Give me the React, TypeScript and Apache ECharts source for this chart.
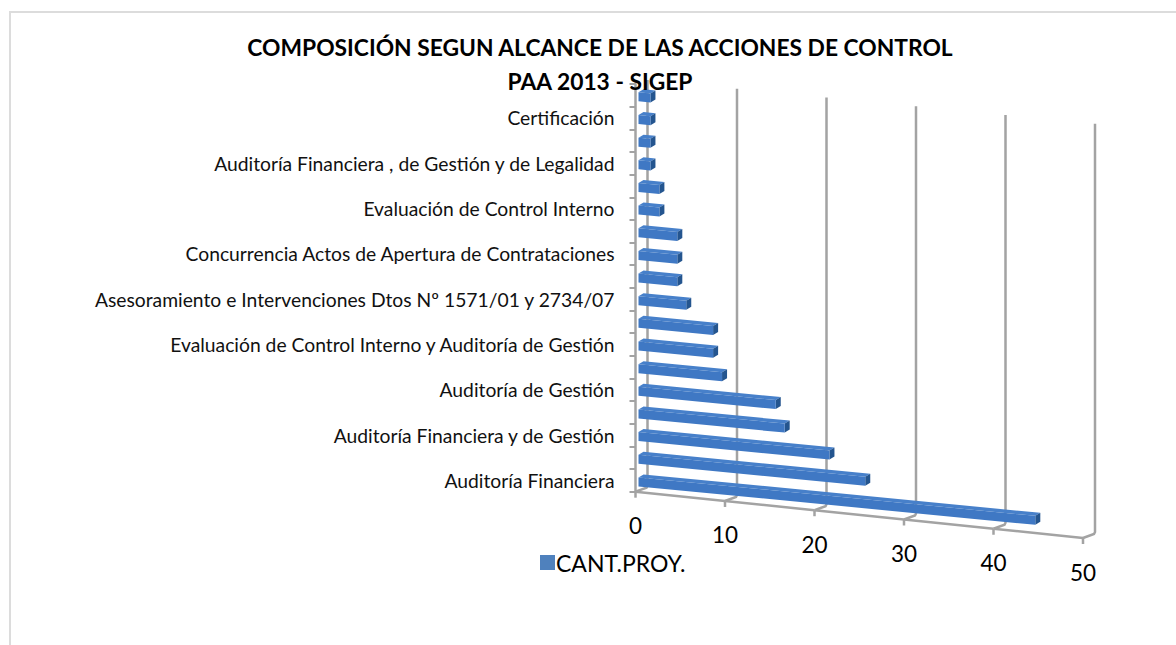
import React, { useEffect, useRef } from "react";
import * as echarts from "echarts";

const titleText = "COMPOSICIÓN SEGUN ALCANCE DE LAS ACCIONES DE CONTROL\nPAA 2013 - SIGEP";
const seriesName = "CANT.PROY.";
const categories = [
  "Auditoría Financiera", "",
  "Auditoría Financiera y de Gestión", "",
  "Auditoría de Gestión", "",
  "Evaluación de Control Interno y Auditoría de Gestión", "",
  "Asesoramiento e Intervenciones Dtos Nº 1571/01 y 2734/07", "",
  "Concurrencia Actos de Apertura de Contrataciones", "",
  "Evaluación de Control Interno", "",
  "Auditoría Financiera , de Gestión y de Legalidad", "",
  "Certificación", "",
];
const values = [44, 25, 21, 16, 15, 9, 8, 8, 5, 4, 4, 4, 2, 2, 1, 1, 1, 1];
const valueTicks = [0, 10, 20, 30, 40, 50];

const FONT = "Lato, 'Open Sans', sans-serif";
const GREY = "#A3A3A3";
const BAR_SLOPE = 0.097;
const FLOOR_SLOPE = 0.1035;
const WALL_SLOPE = 0.098;

export default function App() {
  const ref = useRef<HTMLDivElement>(null);
  useEffect(() => {
    const chart = echarts.init(ref.current!, undefined, { renderer: "svg" });
    chart.setOption({
      animation: false,
      backgroundColor: "#fff",
      title: {
        text: titleText,
        left: 595,
        top: 24.5,
        textAlign: "center",
        textStyle: { fontFamily: FONT, fontWeight: "bold", fontSize: 22.8, lineHeight: 34.5, color: "#000" },
      },
      legend: {
        data: [seriesName],
        left: 535,
        top: 546,
        icon: "rect",
        itemWidth: 15,
        itemHeight: 15,
        itemGap: 6,
        textStyle: { fontFamily: FONT, fontSize: 23, color: "#000", padding: [0, 0, 0, -4] },
      },
      grid: { left: 635.5, top: 84, width: 447.5, height: 407.7 },
      xAxis: { type: "value", min: 0, max: 50, interval: 10, show: false },
      yAxis: {
        type: "category",
        data: categories,
        axisLine: { show: true, lineStyle: { color: GREY, width: 2.5 } },
        axisTick: { show: true, interval: 0, length: 6, lineStyle: { color: GREY, width: 2 } },
        axisLabel: { interval: 1, margin: 21, fontFamily: FONT, fontSize: 19.3, color: "#111" },
        splitLine: { show: false },
      },
      graphic: [
        {
          type: "polyline",
          shape: { points: [[10, 645], [10, 12], [1176, 12]] },
          style: { stroke: "#DCDCDC", lineWidth: 2, fill: "none" },
          silent: true,
        },
      ],
      series: [
        {
          type: "custom",
          name: "frame",
          data: valueTicks.map((t) => [t]),
          encode: { x: 0 },
          silent: true,
          z: 1,
          renderItem: (params: any, api: any) => {
            const v = api.value(0);
            const [x] = api.coord([v, 0]);
            const cs = params.coordSys;
            const left = cs.x;
            const bottom = cs.y + cs.height;
            const fy = bottom + FLOOR_SLOPE * (x - left);
            const bx = x + 12;
            const by = fy - 5;
            const topY = cs.y - 4 + WALL_SLOPE * (bx - left - 12);
            const lineStyle = { stroke: GREY, lineWidth: 2.5, fill: "none" };
            const children: any[] = [
              { type: "polyline", shape: { points: [[x, fy], [bx - 1, by + 1], [bx, by - 1], [bx, topY]] }, style: lineStyle },
              { type: "line", shape: { x1: x, y1: fy, x2: x, y2: fy + 6 }, style: lineStyle },
              {
                type: "text",
                style: {
                  text: String(v),
                  x,
                  y: fy + 34,
                  fontFamily: FONT,
                  fontSize: 22.5,
                  fill: "#000",
                  align: "center",
                  verticalAlign: "middle",
                },
              },
            ];
            if (v < valueTicks[valueTicks.length - 1]) {
              const [nx] = api.coord([v + 10, 0]);
              children.push({
                type: "line",
                shape: { x1: x, y1: fy, x2: nx, y2: bottom + FLOOR_SLOPE * (nx - left) },
                style: lineStyle,
              });
            }
            return { type: "group", children };
          },
        },
        {
          type: "custom",
          name: seriesName,
          data: values.map((v, i) => [v, i]),
          encode: { x: 0, y: 1 },
          itemStyle: { color: "#4F81BD" },
          silent: true,
          z: 3,
          renderItem: (_params: any, api: any) => {
            const [x0, yc] = api.coord([0, api.value(1)]);
            const [x1] = api.coord([api.value(0), api.value(1)]);
            const sx = x0 + 3;
            const ex = x1 + 6;
            const dx = 5;
            const dy = -3;
            const at = (x: number, off: number) => [x, yc + BAR_SLOPE * (x - sx) + off];
            const shift = (p: number[]) => [p[0] + dx, p[1] + dy];
            const tl = at(sx, -3);
            const bl = at(sx, 6);
            const tr = at(ex, -3);
            const br = at(ex, 6);
            return {
              type: "group",
              children: [
                { type: "polygon", shape: { points: [tl, tr, shift(tr), shift(tl)] }, style: { fill: "#4780CA" } },
                { type: "polygon", shape: { points: [tr, br, shift(br), shift(tr)] }, style: { fill: "#24558F" } },
                { type: "polygon", shape: { points: [tl, tr, br, bl] }, style: { fill: "#3F78C4" } },
              ],
            };
          },
        },
      ],
    });
    return () => chart.dispose();
  }, []);
  return <div ref={ref} style={{ position: "absolute", left: 0, top: 0, width: 1176, height: 645 }} />;
}
